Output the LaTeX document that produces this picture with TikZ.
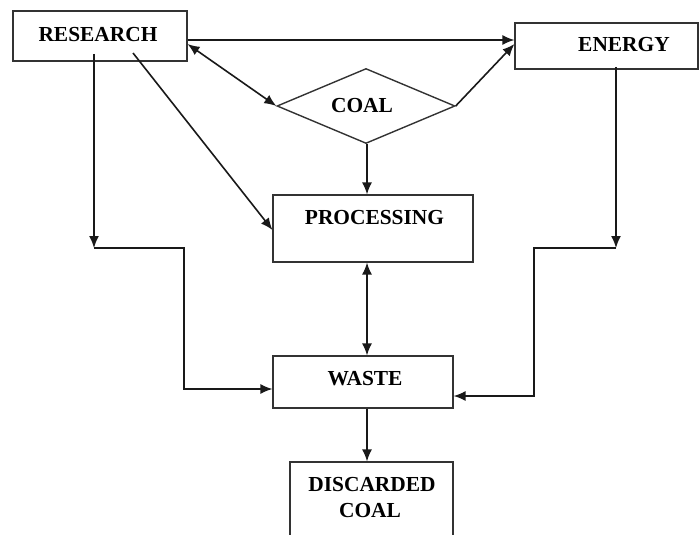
\documentclass[tikz,border=0pt]{standalone}
\usepackage{fontspec}
\setmainfont{Liberation Serif}
\usetikzlibrary{arrows.meta,shapes.geometric}
\begin{document}
\begin{tikzpicture}[x=1pt,y=-1pt,
  boxnode/.style={draw=black!80, line width=1.1pt, rectangle, inner sep=0pt},
  lbl/.style={inner sep=0pt, anchor=base, font=\fontsize{21.4}{24}\selectfont\bfseries},
  conn/.style={line width=1.6pt, draw=black!90},
  arr/.style={conn, -{Latex[length=12pt,width=10pt]}},
  dbl/.style={conn, {Latex[length=12pt,width=10pt]}-{Latex[length=12pt,width=10pt]}}
]
\useasboundingbox (0,0) rectangle (699,535);
% boxes
\node[boxnode, minimum width=174pt, minimum height=50pt] (research) at (100,36) {};
\node[boxnode, minimum width=183pt, minimum height=46pt] (energy) at (606.5,46) {};
\node[boxnode, diamond, line width=1.4pt, minimum width=178pt, minimum height=75pt] (coal) at (366,106) {};
\node[boxnode, minimum width=200pt, minimum height=67pt] (processing) at (373,228.5) {};
\node[boxnode, minimum width=180pt, minimum height=52pt] (waste) at (363,382) {};
\node[boxnode, minimum width=163pt, minimum height=86pt] (discarded) at (371.5,505) {};
% labels
\node[lbl] (researchT) at (98,42) {RESEARCH};
\node[lbl] (energyT) at (624,52) {ENERGY};
\node[lbl] (coalT) at (362,113) {COAL};
\node[lbl] (processingT) at (374.5,224) {PROCESSING};
\node[lbl] (wasteT) at (365,385) {WASTE};
\node[lbl] (discT1) at (372,491) {DISCARDED};
\node[lbl] (discT2) at (370,517) {COAL};
% bend points
\coordinate (lbend) at (94,248);
\coordinate (lmid) at (184,248);
\coordinate (rbend) at (616,248);
\coordinate (rmid) at (534,248);
% connectors
\draw[arr] ([yshift=-4pt]research.east) -- ([yshift=-4pt]research.east -| energy.west);
\draw[dbl] ([yshift=-8pt]research.east) -- (coal.west);
\draw[arr] (coal.east) -- ([yshift=2pt]energy.west);
\draw[arr] ([xshift=1pt]coal.south) -- ([xshift=1pt]coal.south |- processing.north);
\draw[arr] ([xshift=33pt,yshift=-17pt]research.center) -- ([yshift=-1.5pt]processing.west);
\draw[arr] ([xshift=-6pt,yshift=-18pt]research.center) -- (lbend);
\draw[arr] (lbend) -- (lmid) |- ([yshift=-7pt]waste.west);
\draw[arr] ([xshift=9.5pt,yshift=-21pt]energy.center) -- (rbend);
\draw[arr] (rbend) -- (rmid) |- ([yshift=-14pt]waste.east);
\draw[dbl] ([xshift=-6pt]processing.south) -- ([xshift=-6pt]processing.south |- waste.north);
\draw[arr] ([xshift=4pt]waste.south) -- ([xshift=4pt]waste.south |- discarded.north);
\end{tikzpicture}
\end{document}
